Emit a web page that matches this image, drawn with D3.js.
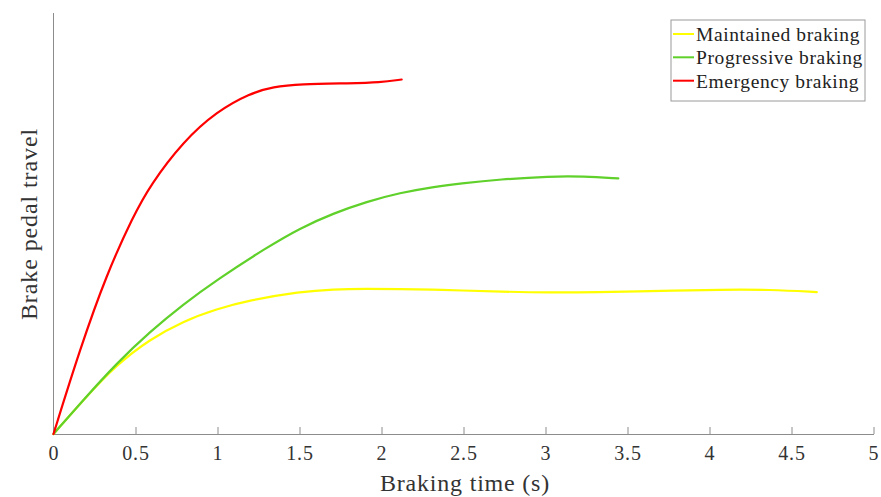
<!DOCTYPE html>
<html>
<head>
<meta charset="utf-8">
<script src="https://cdn.jsdelivr.net/npm/d3@7"></script>
<style>
  html, body { margin: 0; padding: 0; background: #fff; }
  svg { display: block; }
  text { font-family: "Liberation Serif", "DejaVu Serif", serif; }
</style>
</head>
<body>
<svg id="chart" width="881" height="497"></svg>
<script>
// ---- data ----
const xTicks = [0, 0.5, 1, 1.5, 2, 2.5, 3, 3.5, 4, 4.5, 5];
const seriesNames = ["Maintained braking", "Progressive braking", "Emergency braking"];
const seriesColors = ["#ffff00", "#5fd12a", "#ff0000"];

const maintainedT = [0, 0.182, 0.385, 0.588, 0.791, 0.995, 1.198, 1.503, 1.706, 1.91, 2.113, 2.316, 2.479, 2.723, 3.028, 3.33, 3.576, 3.76, 4.065, 4.37, 4.654];
const maintainedV = [0, 0.081, 0.165, 0.225, 0.268, 0.297, 0.318, 0.338, 0.344, 0.345, 0.344, 0.343, 0.341, 0.338, 0.336, 0.337, 0.339, 0.340, 0.343, 0.343, 0.337];

const progressiveT = [0, 0.182, 0.385, 0.588, 0.791, 0.995, 1.3, 1.503, 1.706, 1.91, 2.113, 2.316, 2.479, 2.723, 3.028, 3.23, 3.444];
const progressiveV = [0, 0.081, 0.168, 0.243, 0.308, 0.366, 0.443, 0.489, 0.524, 0.552, 0.573, 0.587, 0.595, 0.605, 0.612, 0.612, 0.607];

const emergencyT = [0, 0.16, 0.324, 0.487, 0.588, 0.791, 0.995, 1.198, 1.34, 1.503, 1.808, 1.99, 2.123];
const emergencyV = [0, 0.200, 0.380, 0.518, 0.590, 0.695, 0.766, 0.809, 0.825, 0.831, 0.833, 0.835, 0.842];

// ---- layout ----
const svg = d3.select("#chart");
const x = d3.scaleLinear().domain([0, 5]).range([53.5, 873.5]);
const y = d3.scaleLinear().domain([0, 1]).range([434, 13]);

const series = [
  { name: seriesNames[0], color: seriesColors[0], pts: maintainedT.map((t, i) => [t, maintainedV[i]]) },
  { name: seriesNames[1], color: seriesColors[1], pts: progressiveT.map((t, i) => [t, progressiveV[i]]) },
  { name: seriesNames[2], color: seriesColors[2], pts: emergencyT.map((t, i) => [t, emergencyV[i]]) }
];

// y axis line (no ticks)
svg.append("line")
  .attr("x1", x(0)).attr("x2", x(0))
  .attr("y1", y(0)).attr("y2", y(1))
  .attr("stroke", "#8c8c8c").attr("stroke-width", 1);

// x axis with inward ticks
const xAxis = d3.axisBottom(x).tickValues(xTicks).tickSizeInner(-7).tickSizeOuter(0)
  .tickFormat(d => String(d));
const gx = svg.append("g").attr("transform", `translate(0,${y(0)})`).call(xAxis);
gx.select(".domain").attr("stroke", "#8c8c8c");
gx.selectAll(".tick line").attr("stroke", "#8c8c8c");
gx.selectAll(".tick text")
  .attr("y", 12).attr("dy", "0.71em")
  .attr("fill", "#333").attr("font-size", 20)
  .attr("letter-spacing", "0.8px")
  .attr("font-family", "Liberation Serif, serif");

// lines
const line = d3.line().x(d => x(d[0])).y(d => y(d[1])).curve(d3.curveBasis);
series.forEach(s => {
  svg.append("path").datum(s.pts)
    .attr("d", line)
    .attr("fill", "none")
    .attr("stroke", s.color)
    .attr("stroke-width", 2.2)
    .attr("stroke-linecap", "round");
});

// axis titles
svg.append("text")
  .attr("x", 465).attr("y", 491)
  .attr("text-anchor", "middle")
  .attr("font-size", 24).attr("fill", "#333")
  .attr("letter-spacing", "0.8px")
  .text("Braking time (s)");

svg.append("text")
  .attr("transform", "translate(37,224) rotate(-90)")
  .attr("text-anchor", "middle")
  .attr("font-size", 24).attr("fill", "#333")
  .attr("letter-spacing", "0.9px")
  .text("Brake pedal travel");

// legend
const lg = svg.append("g");
lg.append("rect")
  .attr("x", 671).attr("y", 20).attr("width", 194).attr("height", 81)
  .attr("fill", "#fff").attr("stroke", "#9a9a9a").attr("stroke-width", 1);
const rowsY = [34, 57.3, 80.7];
series.forEach((s, i) => {
  lg.append("line")
    .attr("x1", 673).attr("x2", 694)
    .attr("y1", rowsY[i]).attr("y2", rowsY[i])
    .attr("stroke", s.color).attr("stroke-width", 2);
  lg.append("text")
    .attr("x", 696).attr("y", rowsY[i]).attr("dy", "0.35em")
    .attr("font-size", 19.5).attr("fill", "#222")
    .attr("letter-spacing", "0.6px")
    .text(s.name);
});
</script>
</body>
</html>
